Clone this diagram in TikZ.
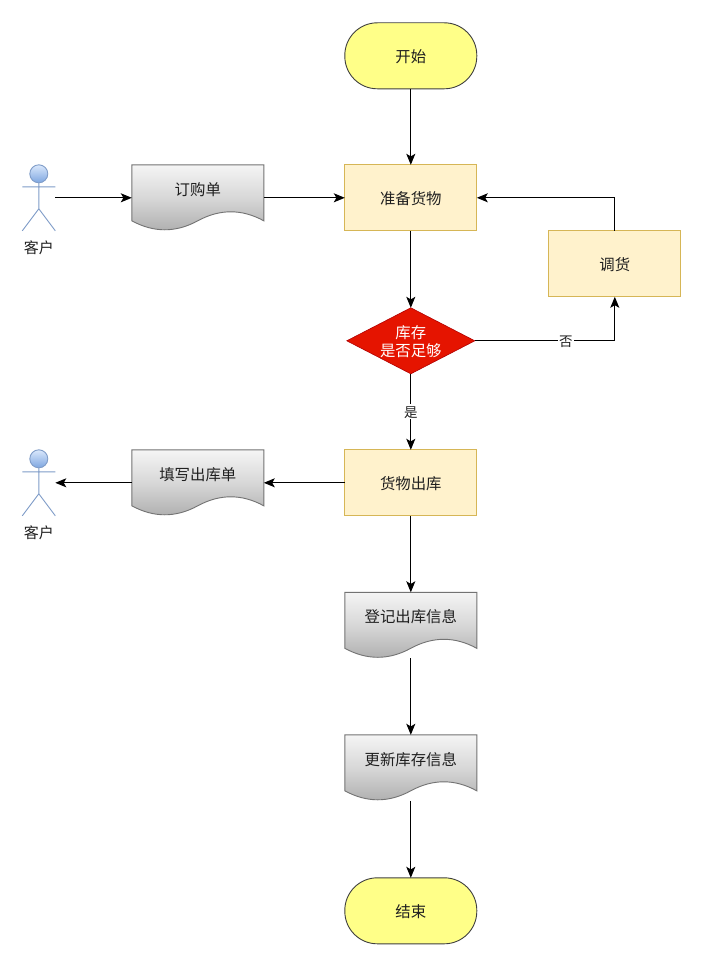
\documentclass[tikz,border=0pt]{standalone}
\usepackage{fontspec}
\setmainfont{Noto Sans CJK SC}
\usetikzlibrary{arrows.meta,shapes.geometric}
\definecolor{inkc}{HTML}{1F1F1F}
\tikzset{
  base/.style={inner sep=0pt,outer sep=0pt,font=\fontsize{15.4}{18}\selectfont,text=inkc,
    text height=13.5pt,text depth=.5pt},
  terminal/.style={base,draw=black!75,line width=.9pt,fill=termfill,rounded corners=32.5pt,
    minimum width=132pt,minimum height=66pt},
  process/.style={base,draw=procline,line width=.9pt,fill=procfill,
    minimum width=132pt,minimum height=66pt},
  decision/.style={inner sep=0pt,outer sep=0pt,diamond,shape aspect=2,draw=decline,line width=.6pt,fill=decfill,
    minimum width=128pt,minimum height=66pt},
  docslot/.style={base,minimum width=132pt,minimum height=66pt},
  docbody/.style={draw=black!55,line width=.9pt,top color=black!4,bottom color=black!32,middle color=black!16},
  doctext/.style={base},
  decisiontext/.style={inner sep=0pt,outer sep=0pt,text=white,align=center,font=\fontsize{15.4}{18}\selectfont},
  actorslot/.style={base,minimum width=33pt,minimum height=66pt},
  actorline/.style={draw=actorline,line width=.9pt},
  actorhead/.style={actorline,top color=actortop,bottom color=actorbot},
  actortext/.style={base,font=\fontsize{15}{17}\selectfont},
  edgelabel/.style={base,fill=white,inner xsep=1pt,inner ysep=1pt,font=\fontsize{13.5}{15}\selectfont,
    text height=12.5pt,text depth=.5pt},
  flow/.style={draw=black,line width=1pt,-{Stealth[length=11pt,width=9pt,inset=2.6pt]}}
}
\definecolor{termfill}{HTML}{FFFF88}
\definecolor{procfill}{HTML}{FFF2CC}
\definecolor{procline}{HTML}{D6B656}
\definecolor{decfill}{HTML}{E51400}
\definecolor{decline}{HTML}{B20000}
\definecolor{actorline}{HTML}{7F9CC8}
\definecolor{actortop}{HTML}{DAE8FC}
\definecolor{actorbot}{HTML}{7EA6E0}
% document shape: flat top, wavy bottom, caption set above the centre
\newcommand{\docshape}[4]{%
  \begin{scope}[shift={(#2,#3)}]
    \path[docbody] (-66,-33) -- (66,-33) -- (66,23)
      .. controls (44,11) and (22,11) .. (0,23)
      .. controls (-22,35) and (-44,35) .. (-66,23) -- cycle;
  \end{scope}
  \node[docslot] (#1) at (#2,#3) {};
  \node[doctext] (#1text) at (#2,#3-9) {#4};
}
% stick figure with its caption underneath
\newcommand{\actorshape}[3]{%
  \begin{scope}[shift={(#2,#3)}]
    \path[actorline] (0,-15) -- (0,11) (-16.5,-11) -- (16.5,-11)
      (-16.5,33) -- (0,11) -- (16.5,33);
    \path[actorhead] (0,-24) circle (9);
  \end{scope}
  \node[actorslot] (#1) at (#2,#3) {};
  \node[actortext] (#1text) at (#2,#3+49) {客户};
}
\begin{document}
\begin{tikzpicture}[x=1pt,y=-1pt]
  \useasboundingbox[fill=white] (0.2,0.2) rectangle (703.2,966.2);

  \node[terminal] (start) at (411,56) {开始};
  \node[process] (prep) at (411,198) {准备货物};
  \node[process] (transfer) at (615,264) {调货};
  \node[decision] (check) at (411,341) {};
  \node[decisiontext] (checktext) at (411,342) {库存\\是否足够};
  \node[process] (ship) at (411,483) {货物出库};
  \node[terminal] (finish) at (411,911) {结束};

  \docshape{order}{198}{198}{订购单}
  \docshape{outform}{198}{483}{填写出库单}
  \docshape{record}{411}{625.5}{登记出库信息}
  \docshape{stock}{411}{768}{更新库存信息}

  \actorshape{buyer}{39}{198}
  \actorshape{receiver}{39}{483}

  \draw[flow] (start) -- (prep);
  \draw[flow] (buyer.east) -- (order.west);
  \draw[flow] (order.east) -- (prep.west);
  \draw[flow] (prep) -- (check.north);
  \draw[flow] (check.east) -| (transfer.south) node[edgelabel,pos=.325] (nolabel) {否};
  \draw[flow] (transfer.north) |- (prep.east);
  \draw[flow] (check.south) -- (ship.north) node[edgelabel,midway] (yeslabel) {是};
  \draw[flow] (ship.west) -- (outform.east);
  \draw[flow] (outform.west) -- (receiver.east);
  \draw[flow] (ship.south) -- (record.north);
  \draw[flow] (record.south) -- (stock.north);
  \draw[flow] (stock.south) -- (finish.north);
\end{tikzpicture}
\end{document}
